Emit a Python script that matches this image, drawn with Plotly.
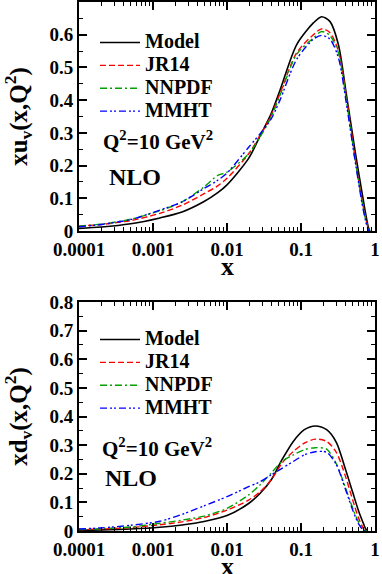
import plotly.graph_objects as go

# ---------------- data ----------------
x_top = [1e-4, 2e-4, 5e-4, 0.00124, 0.00247, 0.0049, 0.0075, 0.01, 0.0196, 0.0279, 0.0394,
         0.052, 0.0875, 0.147, 0.19, 0.247, 0.32, 0.41, 0.537, 0.695, 0.81, 0.85]
uv_model = [0.008, 0.012, 0.022, 0.04, 0.058, 0.09, 0.117, 0.141, 0.222, 0.29, 0.358,
            0.43, 0.57, 0.636, 0.655, 0.64, 0.57, 0.418, 0.246, 0.094, 0.013, 0.0]
uv_jr14 = [0.015, 0.02, 0.032, 0.054, 0.079, 0.114, 0.138, 0.161, 0.236, 0.292, 0.353,
           0.42, 0.545, 0.60, 0.618, 0.606, 0.55, 0.41, 0.226, 0.074, 0.008, 0.0]
uv_nnpdf = [0.015, 0.021, 0.036, 0.062, 0.089, 0.135, 0.17, 0.18, 0.236, 0.287, 0.348,
            0.415, 0.54, 0.59, 0.61, 0.597, 0.545, 0.40, 0.22, 0.07, 0.006, 0.0]
uv_mmht = [0.013, 0.02, 0.035, 0.064, 0.089, 0.13, 0.155, 0.177, 0.256, 0.297, 0.342,
           0.40, 0.525, 0.586, 0.598, 0.586, 0.53, 0.39, 0.216, 0.064, 0.004, 0.0]

x_bot = [1e-4, 2e-4, 5e-4, 0.00124, 0.00247, 0.0049, 0.01, 0.0196, 0.0279, 0.0394, 0.0554,
         0.0787, 0.111, 0.156, 0.222, 0.3, 0.4, 0.5, 0.6, 0.7, 0.74, 0.78]
dv_model = [0.003, 0.004, 0.007, 0.013, 0.021, 0.033, 0.054, 0.096, 0.131, 0.178, 0.249,
            0.313, 0.354, 0.367, 0.354, 0.31, 0.215, 0.135, 0.07, 0.025, 0.01, 0.0]
dv_jr14 = [0.005, 0.007, 0.012, 0.022, 0.032, 0.047, 0.073, 0.108, 0.137, 0.178, 0.237,
           0.278, 0.307, 0.321, 0.313, 0.275, 0.19, 0.108, 0.045, 0.008, 0.0, 0.0]
dv_nnpdf = [0.005, 0.008, 0.014, 0.027, 0.038, 0.052, 0.079, 0.126, 0.161, 0.202, 0.243,
            0.266, 0.284, 0.291, 0.286, 0.235, 0.15, 0.08, 0.03, 0.003, 0.0, 0.0]
dv_mmht = [0.007, 0.011, 0.02, 0.034, 0.058, 0.088, 0.12, 0.155, 0.172, 0.196, 0.219,
           0.243, 0.266, 0.277, 0.275, 0.232, 0.145, 0.073, 0.025, 0.002, 0.0, 0.0]

names = ["Model", "JR14", "NNPDF", "MMHT"]
colors = ["#000000", "#ff0000", "#00a000", "#0000ff"]
dashes = ["solid", "6px,3px", "7px,3px,2px,3px", "7px,3px,2px,2px,2px,3px"]
widths = [1.6, 1.4, 1.4, 1.4]

x_tickvals = [1e-4, 1e-3, 1e-2, 1e-1, 1]
x_ticktext = ["0.0001", "0.001", "0.01", "0.1", "1"]
y_top_ticks = [0, 0.1, 0.2, 0.3, 0.4, 0.5, 0.6]
y_bot_ticks = [0, 0.1, 0.2, 0.3, 0.4, 0.5, 0.6, 0.7, 0.8]

FONT = "Liberation Serif"

fig = go.Figure()
for ys, nm, c, d, w in zip([uv_model, uv_jr14, uv_nnpdf, uv_mmht], names, colors, dashes, widths):
    fig.add_trace(go.Scatter(x=x_top, y=ys, mode="lines", xaxis="x", yaxis="y",
                             name='<span style="font-size:20px">%s</span>' % nm,
                             line=dict(color=c, dash=d, width=w, shape="spline", smoothing=0.8),
                             legend="legend"))
for ys, nm, c, d, w in zip([dv_model, dv_jr14, dv_nnpdf, dv_mmht], names, colors, dashes, widths):
    fig.add_trace(go.Scatter(x=x_bot, y=ys, mode="lines", xaxis="x2", yaxis="y2",
                             name='<span style="font-size:20px">%s</span>' % nm,
                             line=dict(color=c, dash=d, width=w, shape="spline", smoothing=0.8),
                             legend="legend2"))

H = 574
top_dom = [(531 - 231) / 529, 1.0]
bot_dom = [0.0, 229 / 529]

def xaxis_def(anchor):
    return dict(type="log", range=[-4, 0], anchor=anchor, domain=[0, 1],
                tickvals=x_tickvals, ticktext=x_ticktext, ticklabeloverflow="allow",
                ticks="inside", ticklen=8, tickwidth=1.5, tickcolor="black",
                minor=dict(ticks="inside", ticklen=4, tickwidth=1.2, tickcolor="black", dtick="D1"),
                showline=True, linecolor="black", linewidth=2, mirror="ticks",
                showgrid=False, zeroline=False,
                tickfont=dict(family=FONT, size=19, color="black", weight="bold"))

def yaxis_def(anchor, dom, rng, tv, title):
    return dict(range=rng, anchor=anchor, domain=dom, tickvals=tv,
                ticktext=[("%g" % v) for v in tv],
                ticks="inside", ticklen=8, tickwidth=1.5, tickcolor="black",
                minor=dict(ticks="inside", ticklen=4, tickwidth=1.2, tickcolor="black", dtick=0.05),
                showline=True, linecolor="black", linewidth=2, mirror="ticks",
                showgrid=False, zeroline=False,
                tickfont=dict(family=FONT, size=19, color="black", weight="bold"),
                title=dict(text=title, font=dict(family=FONT, size=25, color="black", weight="bold"),
                           standoff=15))

legend_common = dict(bgcolor="rgba(0,0,0,0)", borderwidth=0, xanchor="left", yanchor="top",
                     font=dict(family=FONT, size=15.3, color="black", weight="bold"),
                     itemwidth=40, tracegroupgap=0)

fig.update_layout(
    width=382, height=H,
    margin=dict(l=79, r=7, t=2, b=43, autoexpand=False),
    paper_bgcolor="white", plot_bgcolor="white",
    xaxis=xaxis_def("y"),
    yaxis=yaxis_def("x", top_dom, [0, 0.7], y_top_ticks, "xu<sub>v</sub>(x,Q<sup>2</sup>)"),
    xaxis2=xaxis_def("y2"),
    yaxis2=yaxis_def("x2", bot_dom, [0, 0.8], y_bot_ticks, "xd<sub>v</sub>(x,Q<sup>2</sup>)"),
    legend=dict(x=(95 - 79) / 296, y=(531 - 26) / 529, **legend_common),
    legend2=dict(x=(95 - 79) / 296, y=(531 - 323) / 529, **legend_common),
    showlegend=True,
)

ann_font = dict(family=FONT, size=21, color="black", weight="bold")
nlo_font = dict(family=FONT, size=24, color="black", weight="bold")
title_font = dict(family=FONT, size=26, color="black", weight="bold")
fig.add_annotation(text="Q<sup>2</sup>=10 GeV<sup>2</sup>", xref="x domain", yref="y domain",
                   x=0.075, y=0.397, xanchor="left", yanchor="middle", showarrow=False, font=ann_font)
fig.add_annotation(text="NLO", xref="x domain", yref="y domain",
                   x=0.095, y=0.236, xanchor="left", yanchor="middle", showarrow=False, font=nlo_font)
fig.add_annotation(text="Q<sup>2</sup>=10 GeV<sup>2</sup>", xref="x2 domain", yref="y2 domain",
                   x=0.07, y=0.365, xanchor="left", yanchor="middle", showarrow=False, font=ann_font)
fig.add_annotation(text="NLO", xref="x2 domain", yref="y2 domain",
                   x=0.08, y=0.231, xanchor="left", yanchor="middle", showarrow=False, font=nlo_font)
# x-axis titles
fig.add_annotation(text="x", xref="paper", yref="paper", x=0.5, y=(531 - 266) / 529,
                   xanchor="center", yanchor="middle", showarrow=False, font=title_font)
fig.add_annotation(text="x", xref="paper", yref="paper", x=0.5, y=(531 - 566) / 529,
                   xanchor="center", yanchor="middle", showarrow=False, font=title_font)

fig.write_html("out.html", config={"displayModeBar": False},
               post_script="document.body.style.margin='0px';document.body.style.overflow='hidden';")
